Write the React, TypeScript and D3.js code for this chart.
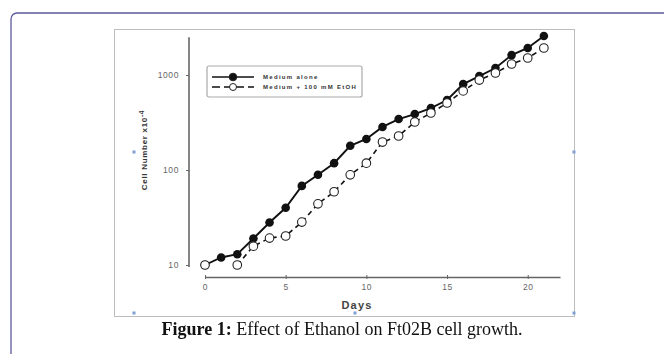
import { useEffect, useRef } from "react"
import * as d3 from "d3"

// days and cell counts (x10^-4)
const days = [0, 1, 2, 3, 4, 5, 6, 7, 8, 9, 10, 11, 12, 13, 14, 15, 16, 17, 18, 19, 20, 21]
const mediumAlone = [10, 12, 13, 19, 28, 40, 68, 89, 118, 180, 212, 284, 344, 388, 449, 545, 803, 975, 1185, 1620, 1925, 2570]
const ethanolDays = [0, 2, 3, 4, 5, 6, 7, 8, 9, 10, 11, 12, 13, 14, 15, 16, 17, 18, 19, 20, 21]
const mediumEtOH = [10, 10, 15.8, 19.2, 20.2, 28.3, 44, 59, 89, 118, 197, 228, 320, 398, 507, 680, 885, 1050, 1305, 1510, 1925]
const xTicks = [0, 5, 10, 15, 20]
const yTicks = [10, 100, 1000]
const legendLabels = ["Medium alone", "Medium + 100 mM EtOH"]

export default function App() {
  const svgRef = useRef<SVGSVGElement | null>(null)

  useEffect(() => {
    if (!svgRef.current) return
    const svg = d3.select(svgRef.current)
    svg.selectAll("*").remove()

    // page frame
    svg.append("rect").attr("x", 11).attr("y", 13).attr("width", 700).attr("height", 400)
      .attr("rx", 6).attr("fill", "white").attr("stroke", "#5c5a9c").attr("stroke-width", 1.3)

    // embedded picture box
    svg.append("rect").attr("x", 114.5).attr("y", 29.5).attr("width", 460).attr("height", 287)
      .attr("fill", "white").attr("stroke", "#bdbdbd").attr("stroke-width", 1)
    const handles: [number, number][] = [[134, 152], [574, 152], [134, 313], [355, 313], [574, 313]]
    svg.selectAll(".handle").data(handles).enter().append("rect")
      .attr("x", (d) => d[0] - 1.5).attr("y", (d) => d[1] - 1.5)
      .attr("width", 3).attr("height", 3).attr("fill", "#7f9fd0")

    const x = d3.scaleLinear().domain([0, 22]).range([205, 560])
    const y = d3.scaleLog().domain([10, 1000]).range([265, 75])
    const font = "Liberation Sans, Arial, sans-serif"

    // x axis
    const xAxis = svg.append("g").attr("transform", "translate(0,277)")
      .call(d3.axisBottom(x).tickValues(xTicks).tickSize(2).tickSizeOuter(0).tickPadding(5))
    xAxis.select(".domain").attr("stroke", "#666").attr("stroke-width", 1.6)
    xAxis.selectAll(".tick line").attr("stroke", "#666").attr("y1", -2)
    xAxis.selectAll(".tick text").attr("fill", "#666").attr("font-size", 8.5).attr("font-family", font)
      .attr("letter-spacing", 0.6)

    // y axis
    const yAxis = svg.append("g").attr("transform", "translate(189,0)")
      .call(d3.axisLeft(y).tickValues(yTicks).tickFormat(d3.format("d")).tickSize(3).tickSizeOuter(0).tickPadding(7))
    yAxis.select(".domain").attr("d", `M0,${y(2500)}V267`).attr("stroke", "#666").attr("stroke-width", 1.6)
    yAxis.selectAll(".tick line").attr("stroke", "#666")
    yAxis.selectAll(".tick text").attr("fill", "#666").attr("font-size", 8.5).attr("font-family", font)
      .attr("letter-spacing", 0.6)

    // axis titles
    svg.append("text").attr("x", 357).attr("y", 309).attr("text-anchor", "middle")
      .attr("font-family", font).attr("font-weight", "bold").attr("font-size", 11)
      .attr("letter-spacing", 1.2).attr("fill", "#444").text("Days")
    const yl = svg.append("text").attr("transform", "translate(147,150) rotate(-90)")
      .attr("text-anchor", "middle").attr("font-family", font).attr("font-weight", "bold")
      .attr("font-size", 8).attr("letter-spacing", 0.7).attr("fill", "#333")
    yl.append("tspan").text("Cell Number  x10")
    yl.append("tspan").attr("dy", -3).attr("font-size", 6.5).text("-4")

    const line = d3.line<[number, number]>().x((d) => x(d[0])).y((d) => y(d[1]))
    const aloneData = days.map((d, i) => [d, mediumAlone[i]] as [number, number])
    const etohData = ethanolDays.map((d, i) => [d, mediumEtOH[i]] as [number, number])

    // ethanol series (dashed, open circles); the day-0 point stands alone
    svg.append("path").datum(etohData.slice(1)).attr("d", line).attr("fill", "none")
      .attr("stroke", "#111").attr("stroke-width", 1.6).attr("stroke-dasharray", "5,4")
    // medium alone (solid, filled circles)
    svg.append("path").datum(aloneData).attr("d", line).attr("fill", "none")
      .attr("stroke", "#111").attr("stroke-width", 1.9)
    svg.selectAll(".filled").data(aloneData).enter().append("circle")
      .attr("cx", (d) => x(d[0])).attr("cy", (d) => y(d[1])).attr("r", 4.3).attr("fill", "#111")
    svg.selectAll(".open").data(etohData).enter().append("circle")
      .attr("cx", (d) => x(d[0])).attr("cy", (d) => y(d[1])).attr("r", 4.3)
      .attr("fill", "white").attr("stroke", "#222").attr("stroke-width", 1.1)

    // legend
    const lg = svg.append("g").attr("transform", "translate(207,66)")
    lg.append("rect").attr("width", 155).attr("height", 31).attr("rx", 2)
      .attr("fill", "white").attr("stroke", "#aaa").attr("stroke-width", 1.2)
    legendLabels.forEach((label, i) => {
      const cy = 11 + i * 10
      const row = lg.append("g")
      row.append("line").attr("x1", 5).attr("x2", 47).attr("y1", cy).attr("y2", cy)
        .attr("stroke", "#111").attr("stroke-width", 1.6)
        .attr("stroke-dasharray", i === 1 ? "8,4" : null)
      row.append("circle").attr("cx", 26).attr("cy", cy).attr("r", i === 0 ? 3.8 : 3.5)
        .attr("fill", i === 0 ? "#111" : "white").attr("stroke", "#222").attr("stroke-width", 1)
      row.append("text").attr("x", 56).attr("y", cy + 2.2).attr("font-family", font)
        .attr("font-size", 6).attr("font-weight", "bold").attr("letter-spacing", 1.3).attr("fill", "#333")
        .text(label)
    })

    // caption
    const cap = svg.append("text").attr("x", 342).attr("y", 335).attr("text-anchor", "middle")
      .attr("font-family", "Liberation Serif, Times New Roman, serif").attr("font-size", 18).attr("fill", "#111")
    cap.append("tspan").attr("font-weight", "bold").text("Figure 1:")
    cap.append("tspan").text(" Effect of Ethanol on Ft02B cell growth.")
  }, [])

  return (
    <div style={{ position: "fixed", left: 0, top: 0 }}>
      <svg ref={svgRef} width={664} height={354} style={{ display: "block" }}></svg>
    </div>
  )
}
